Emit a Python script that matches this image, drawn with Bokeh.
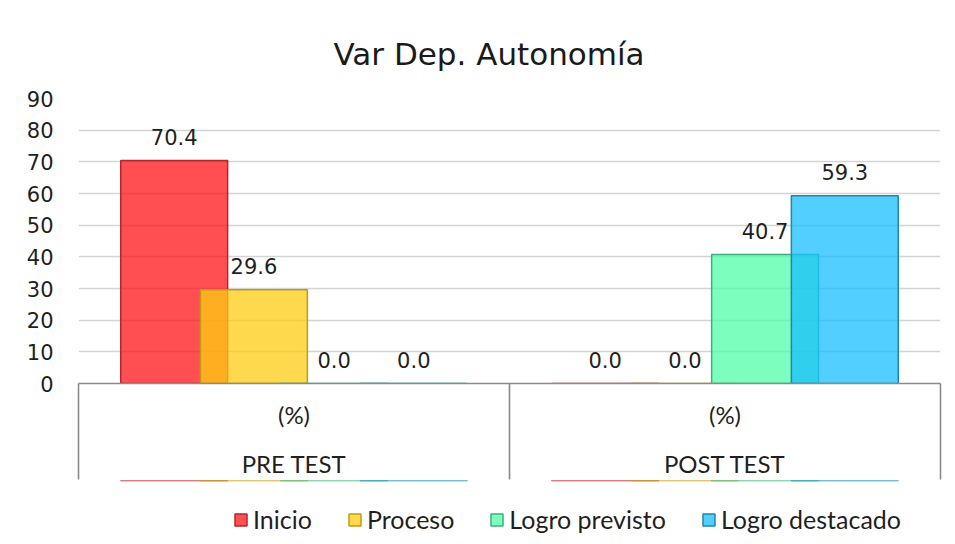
from bokeh.plotting import figure
from bokeh.layouts import column
from bokeh.models import (Range1d, FixedTicker, LinearAxis,
                          ColumnDataSource, Legend, LegendItem)
from bokeh.transform import dodge
from bokeh.core.properties import value
from bokeh.embed import file_html
from bokeh.resources import INLINE

# ---- data ----
chart_title = "Var Dep. Autonomía"
groups = ["PRE TEST", "POST TEST"]
units = ["(%)", "(%)"]
series = ["Inicio", "Proceso", "Logro previsto", "Logro destacado"]
inicio = [70.4, 0.0]
proceso = [29.6, 0.0]
logro_previsto = [0.0, 40.7]
logro_destacado = [0.0, 59.3]
y_ticks = [0, 10, 20, 30, 40, 50, 60, 70, 80, 90]

# ---- styles ----
fills = ["#FF1418", "#FFCC12", "#50FFA8", "#18BFFE"]
edges = ["#B0282B", "#C49A14", "#3DAF7C", "#1F86AE"]
alpha = 0.75
offsets = [-0.278, -0.093, 0.093, 0.278]
bar_w = 0.248
values = [inicio, proceso, logro_previsto, logro_destacado]
grey = "#8a8a8a"
txt = "#1f1f1f"

n = len(groups)
centers = [i + 0.5 for i in range(n)]          # category slots on the x scale
bounds = [float(i) for i in range(n + 1)]       # slot boundaries

data = dict(xc=centers)
for i, vals in enumerate(values):
    data[f"v{i}"] = vals
    data[f"t{i}"] = [f"{v:.1f}" for v in vals]
src = ColumnDataSource(data)

p = figure(x_range=Range1d(0, n),
           y_range=Range1d(y_ticks[0], y_ticks[-1]),
           width=955, height=480,
           min_border_left=78, min_border_right=15,
           min_border_top=98, min_border_bottom=96,
           output_backend="svg", toolbar_location=None)

p.outline_line_color = None
p.background_fill_color = "white"
p.border_fill_color = "white"

# title
p.title.text = chart_title
p.title.align = "left"
p.title.offset = 255
p.title.standoff = 54
p.title.text_font = "DejaVu Sans"
p.title.text_font_size = "31px"
p.title.text_font_style = "normal"
p.title.text_color = "#1a1a1a"

# y axis
p.yaxis.ticker = FixedTicker(ticks=y_ticks)
p.yaxis.axis_line_color = None
p.yaxis.major_tick_line_color = None
p.yaxis.major_tick_in = 0
p.yaxis.major_tick_out = 0
p.yaxis.minor_tick_line_color = None
p.yaxis.major_label_standoff = 25
p.yaxis.major_label_text_font = "DejaVu Sans"
p.yaxis.major_label_text_font_size = "21px"
p.yaxis.major_label_text_color = txt
p.ygrid.grid_line_color = "#D4D4D4"
p.ygrid.grid_line_width = 1.6
p.xgrid.visible = False

# x axis 1: unit labels + slot boundaries (long minor ticks)
xa = p.xaxis[0]
xa.ticker = FixedTicker(ticks=centers, minor_ticks=bounds)
xa.major_label_overrides = dict(zip(centers, units))
xa.axis_line_color = grey
xa.axis_line_width = 1.6
xa.major_tick_line_color = None
xa.major_tick_in = 0
xa.major_tick_out = 0
xa.minor_tick_line_color = grey
xa.minor_tick_line_width = 1.6
xa.minor_tick_in = 0
xa.minor_tick_out = 96
xa.major_label_standoff = -80
xa.major_label_text_font = "Lato"
xa.major_label_text_font_size = "24px"
xa.major_label_text_color = txt

# x axis 2: group labels
group_axis = LinearAxis(ticker=FixedTicker(ticks=centers),
                        major_label_overrides=dict(zip(centers, groups)),
                        axis_line_color=None, major_tick_line_color=None,
                        minor_tick_line_color=None,
                        major_tick_in=0, major_tick_out=0,
                        major_label_standoff=17,
                        major_label_text_font="Lato",
                        major_label_text_font_size="24px",
                        major_label_text_color=txt)
p.add_layout(group_axis, "below")

# bars
for i in range(len(series)):
    p.vbar(x=dodge("xc", offsets[i]), top=f"v{i}",
           width=bar_w, source=src, fill_color=fills[i], fill_alpha=alpha,
           line_color=edges[i], line_width=1.5)

# value labels
for i in range(len(series)):
    p.text(x=dodge("xc", offsets[i]), y=f"v{i}", text=f"t{i}",
           source=src, text_align="center", text_baseline="alphabetic",
           y_offset=-24, text_font=value("DejaVu Sans"),
           text_font_size="21px", text_color=txt)

# legend strip (separate figure so the legend is not clipped);
# its y range lies below zero, so the swatch bars themselves stay hidden
p2 = figure(width=955, height=64, x_range=Range1d(0, n), y_range=Range1d(-2, -1),
            x_axis_location=None, y_axis_location=None,
            min_border_left=0, min_border_right=0,
            min_border_top=0, min_border_bottom=0,
            output_backend="svg", toolbar_location=None)
p2.grid.visible = False
p2.outline_line_color = None
p2.title.visible = False
p2.background_fill_color = "white"
p2.border_fill_color = "white"
swatches = []
for i in range(len(series)):
    swatches.append(p2.vbar(x=dodge("xc", offsets[i]), top=f"v{i}", width=bar_w,
                            source=src, fill_color=fills[i], fill_alpha=alpha,
                            line_color=edges[i], line_width=1.5))

legend = Legend(items=[LegendItem(label=s, renderers=[r]) for s, r in zip(series, swatches)],
                orientation="horizontal", location=(155, 10),
                label_text_font="Lato", label_text_font_size="25px",
                label_text_color=txt,
                glyph_width=15, glyph_height=15, spacing=35, label_standoff=5,
                border_line_color=None, background_fill_alpha=0,
                margin=0, padding=5)
p2.add_layout(legend, "center")

open("out.html", "w").write(file_html(column(p, p2), INLINE))
